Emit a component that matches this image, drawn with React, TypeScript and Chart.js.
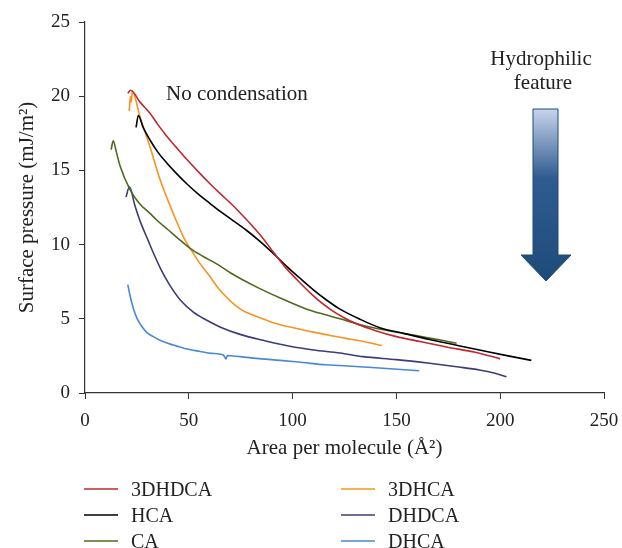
import React, { useEffect, useRef } from "react";
import { Chart, registerables } from "chart.js";
Chart.register(...registerables);

const FONT = "'Liberation Serif', 'Times New Roman', serif";

const xTickStep = 50;
const yTickStep = 5;
const xRange = [0, 250];
const yRange = [0, 25];

const seriesNames = ["3DHDCA", "HCA", "CA", "3DHCA", "DHDCA", "DHCA"];
const seriesColors = ["#c1272d", "#000000", "#4f6a1f", "#f7941d", "#3b3c7a", "#4a89d2"];

const x3DHDCA = [20.6, 22.0, 26.5, 31.3, 35.3, 39.4, 44, 49, 55, 60.2, 65, 70, 75, 80, 85, 90.7, 96, 102, 110, 118, 125, 131, 140, 150, 162, 174, 188, 200];
const y3DHDCA = [20.2, 20.4, 19.6, 18.85, 18.05, 17.3, 16.55, 15.75, 14.85, 14.1, 13.45, 12.8, 12.1, 11.35, 10.55, 9.5, 8.55, 7.65, 6.55, 5.65, 5.05, 4.65, 4.2, 3.8, 3.45, 3.1, 2.75, 2.3];

const xHCA = [24.6, 25.7, 28, 31.3, 35, 39.4, 44, 49, 55, 60, 65, 70, 77.9, 84, 90.7, 97, 103, 110, 116, 122.8, 132, 142, 154, 166, 178, 190, 202, 215];
const yHCA = [17.9, 18.7, 17.9, 17.05, 16.25, 15.5, 14.8, 14.1, 13.35, 12.8, 12.25, 11.75, 10.95, 10.25, 9.4, 8.55, 7.8, 6.95, 6.3, 5.65, 5.0, 4.4, 4.0, 3.6, 3.25, 2.9, 2.55, 2.2];

const xCA = [12.6, 13.6, 15, 16.9, 21.7, 26, 31.3, 34.5, 40, 45.8, 50.6, 57, 63.4, 70, 75, 84, 94, 106.8, 115, 122.8, 134, 146, 158, 170, 179];
const yCA = [16.4, 17.0, 16.3, 15.3, 13.7, 12.8, 12.1, 11.66, 11.0, 10.3, 9.75, 9.2, 8.7, 8.1, 7.7, 7.05, 6.4, 5.65, 5.3, 5.0, 4.55, 4.2, 3.9, 3.6, 3.35];

const x3DHCA = [21.3, 21.9, 22.3, 22.8, 26.5, 31.3, 36.1, 42.5, 48.2, 50.6, 55, 60.2, 64, 68.2, 72, 76, 80, 87.5, 94, 102, 110, 118, 125, 133, 143];
const y3DHCA = [19.0, 20.0, 19.6, 20.3, 18.6, 16.6, 14.4, 12.1, 10.3, 9.75, 8.8, 7.85, 7.1, 6.45, 5.95, 5.55, 5.3, 4.9, 4.6, 4.35, 4.1, 3.88, 3.7, 3.5, 3.2];

const xDHDCA = [19.75, 21.4, 24, 26.5, 30.5, 32.9, 36.5, 40.9, 46, 52.2, 58, 65, 74.7, 85.9, 98.7, 110, 122.8, 134, 150, 166, 180, 190, 197, 203];
const yDHDCA = [13.2, 13.9, 12.65, 11.6, 10.25, 9.45, 8.35, 7.25, 6.25, 5.45, 4.95, 4.45, 3.95, 3.55, 3.15, 2.9, 2.7, 2.45, 2.25, 2.0, 1.75, 1.55, 1.35, 1.1];

const xDHCA = [20.6, 21.8, 23.3, 25, 27.3, 30, 32.9, 37, 42.5, 48, 55.4, 61, 66.6, 67.9, 68.6, 74.7, 85, 94, 105, 116, 122.8, 140, 161];
const yDHCA = [7.3, 6.5, 5.7, 5.05, 4.5, 4.05, 3.8, 3.5, 3.23, 3.0, 2.8, 2.67, 2.56, 2.3, 2.53, 2.45, 2.3, 2.2, 2.05, 1.9, 1.85, 1.7, 1.5];

const seriesX = [x3DHDCA, xHCA, xCA, x3DHCA, xDHDCA, xDHCA];
const seriesY = [y3DHDCA, yHCA, yCA, y3DHCA, yDHDCA, yDHCA];

const annoNoCond = "No condensation";
const annoHydro = ["Hydrophilic", "feature"];

const overlayPlugin = {
  id: "overlay",
  afterDraw(chart: any) {
    const ctx = chart.ctx as CanvasRenderingContext2D;
    ctx.save();
    ctx.fillStyle = "#222";
    ctx.font = `21px ${FONT}`;
    ctx.textBaseline = "middle";
    ctx.textAlign = "left";
    ctx.fillText(annoNoCond, 166, 94);
    ctx.textAlign = "center";
    ctx.fillText(annoHydro[0], 541, 59);
    ctx.fillText(annoHydro[1], 543, 83);
    // Arrow
    const sl = 533, sr = 558, st = 109, hb = 255, hl = 521, hr = 571, tip = 281, tx = 546;
    const g = ctx.createLinearGradient(0, st, 0, tip);
    g.addColorStop(0, "#c8d5ec");
    g.addColorStop(0.15, "#8ea6c8");
    g.addColorStop(0.4, "#2f5c8f");
    g.addColorStop(1, "#1f4b7a");
    ctx.beginPath();
    ctx.moveTo(sl, st);
    ctx.lineTo(sr, st);
    ctx.lineTo(sr, hb);
    ctx.lineTo(hr, hb);
    ctx.lineTo(tx, tip);
    ctx.lineTo(hl, hb);
    ctx.lineTo(sl, hb);
    ctx.closePath();
    ctx.fillStyle = g;
    ctx.fill();
    ctx.strokeStyle = "#1f4b7a";
    ctx.lineWidth = 1;
    ctx.stroke();
    // Legend
    const cols = [84, 341];
    const rows = [489, 515, 541];
    ctx.font = `20px ${FONT}`;
    ctx.textAlign = "left";
    ctx.textBaseline = "middle";
    seriesNames.forEach((name, i) => {
      const c = Math.floor(i / 3);
      const r = i % 3;
      const x = cols[c];
      const y = rows[r];
      ctx.strokeStyle = seriesColors[i];
      ctx.lineWidth = 1.5;
      ctx.beginPath();
      ctx.moveTo(x, y);
      ctx.lineTo(x + 34, y);
      ctx.stroke();
      ctx.fillStyle = "#222";
      ctx.fillText(name, x + 47, y + 2);
    });
    ctx.restore();
  },
};

export default function App() {
  const ref = useRef<HTMLCanvasElement | null>(null);
  useEffect(() => {
    if (!ref.current) return;
    const datasets = seriesNames.map((name, i) => ({
      label: name,
      data: seriesX[i].map((x, j) => ({ x, y: seriesY[i][j] })),
      borderColor: seriesColors[i],
      backgroundColor: seriesColors[i],
      borderWidth: 1.6,
      pointRadius: 0,
      showLine: true,
      cubicInterpolationMode: "monotone",
      fill: false,
    }));
    const tickFont = { family: FONT, size: 19 };
    const titleFont = { family: FONT, size: 21 };
    const chart = new Chart(ref.current, {
      type: "scatter",
      data: { datasets },
      plugins: [overlayPlugin],
      options: {
        responsive: false,
        animation: false,
        layout: { padding: { left: 11, right: 18, top: 22, bottom: 83 }, autoPadding: false } as any,
        plugins: { legend: { display: false }, tooltip: { enabled: false } },
        scales: {
          x: {
            type: "linear",
            min: xRange[0],
            max: xRange[1],
            ticks: { stepSize: xTickStep, font: tickFont, color: "#222", padding: 11 },
            grid: { drawOnChartArea: false, drawTicks: true, tickLength: 6, color: "#333" },
            border: { display: true, color: "#333", width: 1.2 },
            title: { display: true, text: "Area per molecule (Å²)", font: titleFont, color: "#222", padding: 4 },
            afterFit: (s: any) => { s.height = 72; s.paddingLeft = 0; s.paddingRight = 0; },
          },
          y: {
            type: "linear",
            min: yRange[0],
            max: yRange[1],
            ticks: { stepSize: yTickStep, font: tickFont, color: "#222", padding: 9 },
            grid: { drawOnChartArea: false, drawTicks: true, tickLength: 6, color: "#333" },
            border: { display: true, color: "#333", width: 1.2 },
            title: { display: true, text: "Surface pressure (mJ/m²)", font: titleFont, color: "#222", padding: 4 },
            afterFit: (s: any) => { s.width = 74; s.paddingTop = 0; s.paddingBottom = 0; },
          },
        },
      } as any,
    });
    return () => chart.destroy();
  }, []);
  return (
    <canvas
      ref={ref}
      width={622}
      height={548}
      style={{ position: "fixed", left: 0, top: 0, width: 622, height: 548 }}
    />
  );
}
